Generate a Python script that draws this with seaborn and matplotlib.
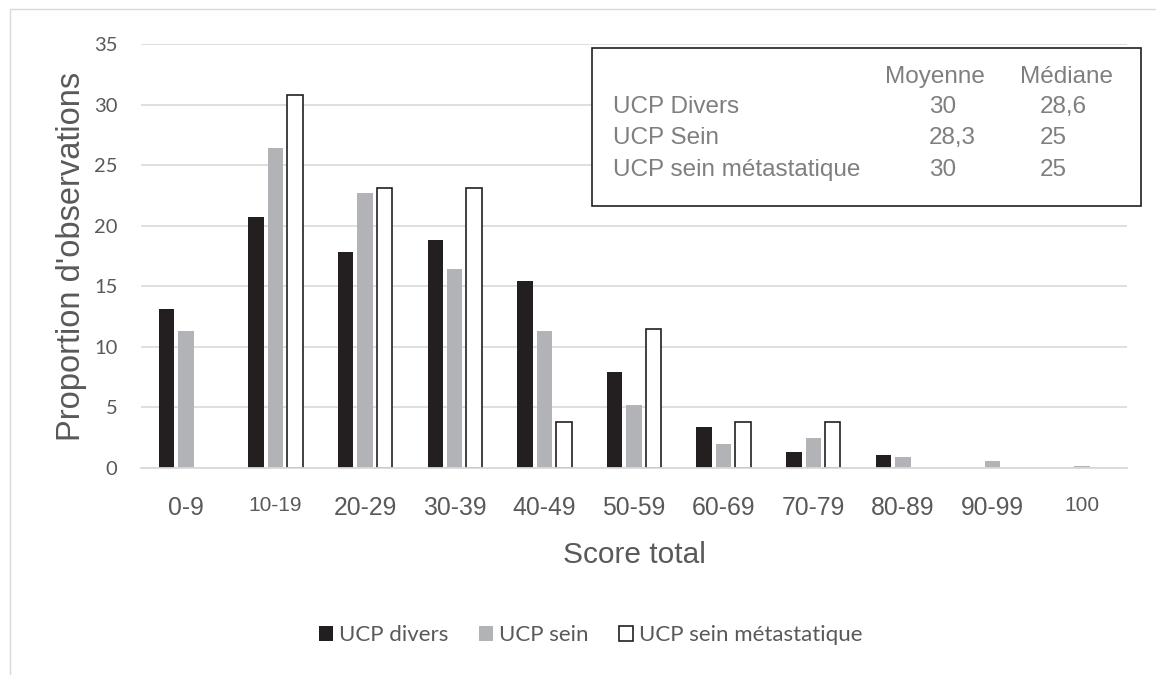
import pandas as pd
import matplotlib
matplotlib.use("Agg")
import matplotlib.pyplot as plt
from matplotlib.patches import Patch, Rectangle
import seaborn as sns

sns.set_style("white")

categories = ['0-9', '10-19', '20-29', '30-39', '40-49', '50-59',
              '60-69', '70-79', '80-89', '90-99', '100']
series = ['UCP divers', 'UCP sein', 'UCP sein métastatique']
divers = [13.1, 20.7, 17.8, 18.8, 15.4, 7.9, 3.4, 1.3, 1.1, 0, 0]
sein = [11.3, 26.4, 22.7, 16.4, 11.3, 5.2, 2.0, 2.5, 0.9, 0.6, 0.15]
metastatique = [0, 30.8, 23.1, 23.1, 3.8, 11.5, 3.8, 3.8, 0, 0, 0]

# summary table shown in the box
table_rows = ['UCP Divers', 'UCP Sein', 'UCP sein métastatique']
moyenne = ['30', '28,3', '30']
mediane = ['28,6', '25', '25']

colors = {'UCP divers': '#231f20', 'UCP sein': '#b1b3b6',
          'UCP sein métastatique': 'white'}

df = pd.DataFrame({
    'cat': categories * 3,
    'serie': [s for s in series for _ in categories],
    'val': divers + sein + metastatique,
})

W, H = 1156, 675
fig = plt.figure(figsize=(W / 100, H / 100), dpi=100)
ax = fig.add_axes([141 / W, 1 - 468 / H, 986 / W, 424 / H])

sns.barplot(data=df, x='cat', y='val', hue='serie', order=categories,
            hue_order=series, palette=colors, saturation=1, width=0.65,
            gap=0.2, linewidth=0, legend=False, ax=ax)

# white bars get a dark outline, empty bars draw nothing
for patch in ax.containers[2]:
    if patch.get_height() > 0:
        patch.set_edgecolor('#231f20')
        patch.set_linewidth(1.2)

ax.set_ylim(0, 35)
ax.set_yticks(range(0, 36, 5))
ax.yaxis.grid(True, color='#d9d9d9', lw=1.2)
ax.set_axisbelow(True)
for s in ['left', 'top', 'right']:
    ax.spines[s].set_visible(False)
ax.spines['bottom'].set_color('#d9d9d9')
ax.spines['bottom'].set_linewidth(1.3)

grey = '#595959'
ax.tick_params(axis='x', length=0, pad=20, labelcolor=grey)
ax.tick_params(axis='y', length=0, pad=17, labelcolor=grey)
for lab in ax.get_xticklabels():
    lab.set_family('Liberation Sans')
    lab.set_fontsize(15 if lab.get_text() in ('10-19', '100') else 17.8)
for lab in ax.get_yticklabels():
    lab.set_family('Lato')
    lab.set_fontsize(14.5)

ax.set_xlabel('Score total', fontsize=21.5, color=grey, family='Liberation Sans')
ax.xaxis.label.set_va('baseline')
ax.xaxis.set_label_coords(0.5, (468 - 563) / 424)
ax.set_ylabel("Proportion d'observations", fontsize=23.5, color=grey,
              family='Liberation Sans')
ax.yaxis.set_label_coords(-0.055, 0.5)

handles = [Patch(facecolor=colors[s], edgecolor='#231f20' if s == series[2] else colors[s],
                 linewidth=1.2 if s == series[2] else 0) for s in series]
leg = ax.legend(handles, series, ncol=3, frameon=False, loc='center',
                bbox_to_anchor=(0.456, -0.394), handlelength=0.63,
                handleheight=0.63, handletextpad=0.25, columnspacing=1.4,
                prop={'family': 'Lato', 'size': 16})
for t in leg.get_texts():
    t.set_color(grey)

# light frame around the chart area
fig.add_artist(Rectangle((9.5 / W, -0.1), 1.2, 1 - 9 / H + 0.1,
                         transform=fig.transFigure, fill=False,
                         edgecolor='#d9d9d9', lw=1))

# text box with mean / median
fig.add_artist(Rectangle((592 / W, 1 - 206 / H), 549 / W, 158 / H,
                         transform=fig.transFigure, facecolor='white',
                         edgecolor='#231f20', lw=1.2, zorder=3))
box_font = dict(family='Liberation Sans', fontsize=17.5, color='#7f7f7f',
                va='baseline', zorder=4)
fig.text(885 / W, 1 - 83 / H, 'Moyenne', **box_font)
fig.text(1020 / W, 1 - 83 / H, 'Médiane', **box_font)
for i, (name, m, md) in enumerate(zip(table_rows, moyenne, mediane)):
    y = 1 - [113, 144, 176][i] / H
    fig.text(613 / W, y, name, **box_font)
    fig.text(929 / W, y, m, **box_font)
    fig.text(1040 / W, y, md, **box_font)

fig.savefig('out.png', dpi=100)
